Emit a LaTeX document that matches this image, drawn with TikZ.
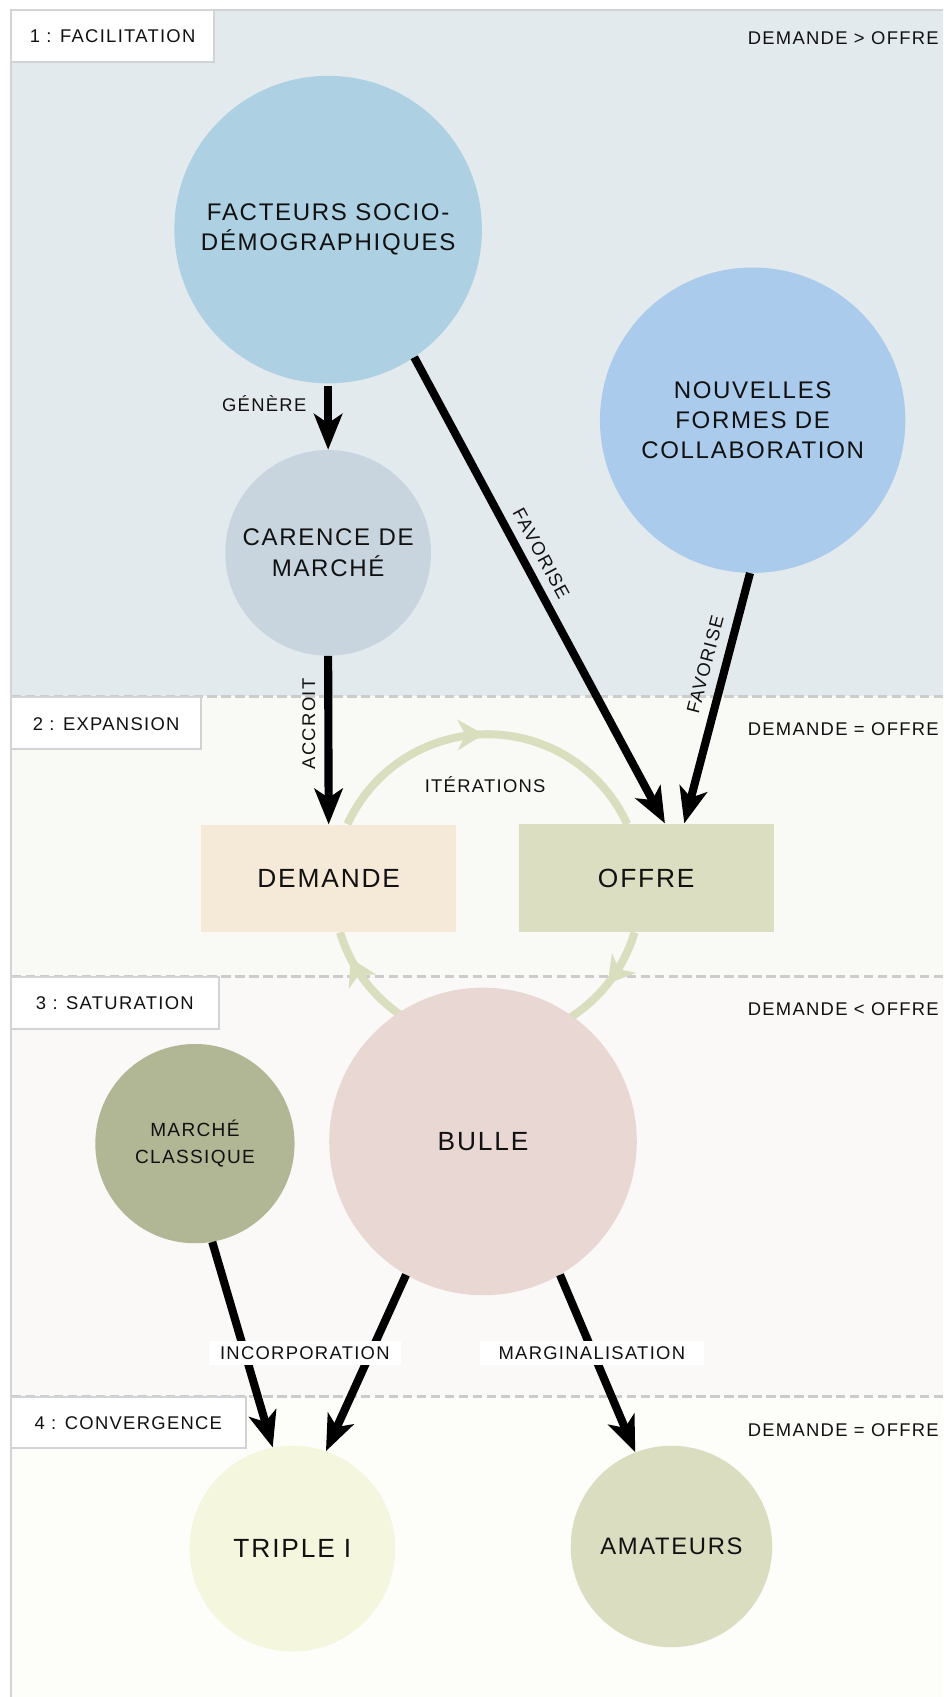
\documentclass[tikz,border=0pt]{standalone}
\usepackage{fontspec}
\setmainfont{Liberation Sans}[LetterSpace=7]
\usetikzlibrary{arrows.meta,decorations.markings}
\definecolor{pone}{HTML}{E3EAEE}
\definecolor{ptwo}{HTML}{F9F9F5}
\definecolor{pthree}{HTML}{FAF9F7}
\definecolor{pfour}{HTML}{FDFDFA}
\definecolor{dashcol}{HTML}{CCCCCC}
\definecolor{bordcol}{HTML}{D2D3D5}
\definecolor{cFact}{HTML}{ADD1E3}
\definecolor{cNouv}{HTML}{AACBEB}
\definecolor{cCar}{HTML}{C8D5DE}
\definecolor{cMC}{HTML}{B1B795}
\definecolor{cBulle}{HTML}{E8D7D3}
\definecolor{cTI}{HTML}{F4F6DD}
\definecolor{cAm}{HTML}{DADDBF}
\definecolor{cDem}{HTML}{F5E9D7}
\definecolor{cOff}{HTML}{DBDEC0}
\definecolor{cycol}{HTML}{D9DEBF}
\definecolor{txt}{HTML}{111111}
\newcommand\mysmallf{\fontsize{17}{20}\selectfont}
\newcommand\mymainf{\fontsize{22.2}{28}\selectfont}
\newcommand\mybigf{\fontsize{24.3}{28}\selectfont}
\newcommand\mymcf{\fontsize{17.6}{25}\selectfont}
\begin{document}
\begin{tikzpicture}[x=1pt,y=-1pt,
  lab/.style={font=\mysmallf, inner sep=0pt, text height=12.17pt, text depth=0pt, text=txt},
  zbox/.style={lab, draw=bordcol, line width=1.8pt, fill=white},
  circ/.style={circle, inner sep=0pt, align=center, font=\mymainf, text=txt},
  rbox/.style={rectangle, inner sep=0pt, font=\mybigf, text height=17.4pt, text depth=0pt, text=txt},
  blk/.style={line width=7.5pt, black, -{Stealth[length=33pt,width=26pt,inset=8.5pt]}},
  cyc/.style={line width=7.4pt, color=cycol},
  cycmark/.style={postaction={decorate, decoration={markings, mark=at position #1 with {\arrow{Stealth[length=24pt,width=28pt,inset=7pt]}}}}},
  dashline/.style={dashcol, line width=2.4pt, dash pattern=on 8.6pt off 4.3pt}
]
\useasboundingbox (0,0) rectangle (871,1567);
\fill[white] (0,0) rectangle (871,1567);
% zones
\fill[pone] (11,10) rectangle (871,643);
\fill[ptwo] (11,643) rectangle (871,901.8);
\fill[pthree] (11,901.8) rectangle (871,1289.6);
\fill[pfour] (11,1289.6) rectangle (871,1567);
\draw[dashline] (11,643) -- (871,643);
\draw[dashline] (11,901.8) -- (871,901.8);
\draw[dashline] (11,1289.6) -- (871,1289.6);
% frame
\draw[bordcol, line width=2.2pt] (10,1567) -- (10,9) -- (871,9);
% zone labels
\node[zbox, minimum width=188pt, minimum height=48pt] (z1) at (104,33) {1 : FACILITATION};
\node[zbox, minimum width=176pt, minimum height=48pt] (z2) at (98,668) {2 : EXPANSION};
\node[zbox, minimum width=192pt, minimum height=48pt] (z3) at (106,926) {3 : SATURATION};
\node[zbox, minimum width=217pt, minimum height=47pt] (z4) at (118.5,1313.5) {4 : CONVERGENCE};
\node[lab, anchor=east] (r1) at (867,35) {DEMANDE > OFFRE};
\node[lab, anchor=east] (r2) at (867,673.5) {DEMANDE = OFFRE};
\node[lab, anchor=east] (r3) at (867,932) {DEMANDE < OFFRE};
\node[lab, anchor=east] (r4) at (867,1320) {DEMANDE = OFFRE};
% iteration cycle
\coordinate (cc) at (450,820);
\path (cc) ++(204.55:142) coordinate (cyA);
\path (cc) ++(118:142) coordinate (cyB);
\path (cc) ++(16.78:142) coordinate (cyC);
\draw[cyc, cycmark=0.49] (cyA) arc[start angle=155.45, end angle=24.55, radius=142pt];
\draw[cyc, cycmark=0.77] (cyB) arc[start angle=-118, end angle=-163.22, radius=142pt];
\draw[cyc, cycmark=0.48] (cyC) arc[start angle=-16.78, end angle=-62, radius=142pt];
% boxes
\node[rbox, fill=cDem, minimum width=235pt, minimum height=99pt] (dem) at (303.5,811) {DEMANDE};
\node[rbox, fill=cOff, minimum width=235.5pt, minimum height=100pt] (off) at (596.7,810.5) {OFFRE};
% circles
\node[circ, minimum size=284pt, fill=cFact] (fact) at (303,212) {FACTEURS SOCIO-\\DÉMOGRAPHIQUES};
\node[circ, minimum size=282pt, fill=cNouv] (nouv) at (695,388) {NOUVELLES\\FORMES DE\\COLLABORATION};
\node[circ, minimum size=190pt, fill=cCar] (car) at (303,510.5) {CARENCE DE\\MARCHÉ};
\node[circ, minimum size=184pt, fill=cMC, font=\mymcf] (mc) at (180,1056) {MARCHÉ\\CLASSIQUE};
\node[circ, minimum size=284pt, fill=cBulle, font=\mybigf] (bulle) at (446,1054) {BULLE};
\node[circ, minimum size=190pt, fill=cTI, font=\mybigf] (ti) at (270,1430) {TRIPLE I};
\node[circ, minimum size=186pt, fill=cAm, font=\fontsize{22}{28}\selectfont] (am) at (620,1428) {AMATEURS};
% black arrows
\draw[blk, shorten <=2pt] (fact.south) -- (car.north);
\draw[blk] (fact.-56) -- (off.71.9);
\draw[blk] (nouv.-91.6) -- (off.55.5);
\draw[blk] (car.south) -- (dem.north);
\draw[blk] (mc.-80) -- (ti.101);
\draw[blk] (bulle.-120) -- (ti.71);
\draw[blk] (bulle.-60) -- (am.111);
% labels
\node[lab] (lgen) at (244,374) {GÉNÈRE};
\node[lab, rotate=-61.7] (lfav1) at (500,511) {FAVORISE};
\node[lab, rotate=75.2] (lfav2) at (651,613.5) {FAVORISE};
\node[lab, rotate=90] (lacc) at (285,668.5) {ACCROIT};
\node[lab] (lit) at (448,725.5) {ITÉRATIONS};
\node[lab, fill=white, minimum width=177pt, minimum height=22pt] (linc) at (281.5,1249) {INCORPORATION};
\node[lab, fill=white, minimum width=207pt, minimum height=22pt] (lmarg) at (546.5,1249) {MARGINALISATION};
\end{tikzpicture}
\end{document}
